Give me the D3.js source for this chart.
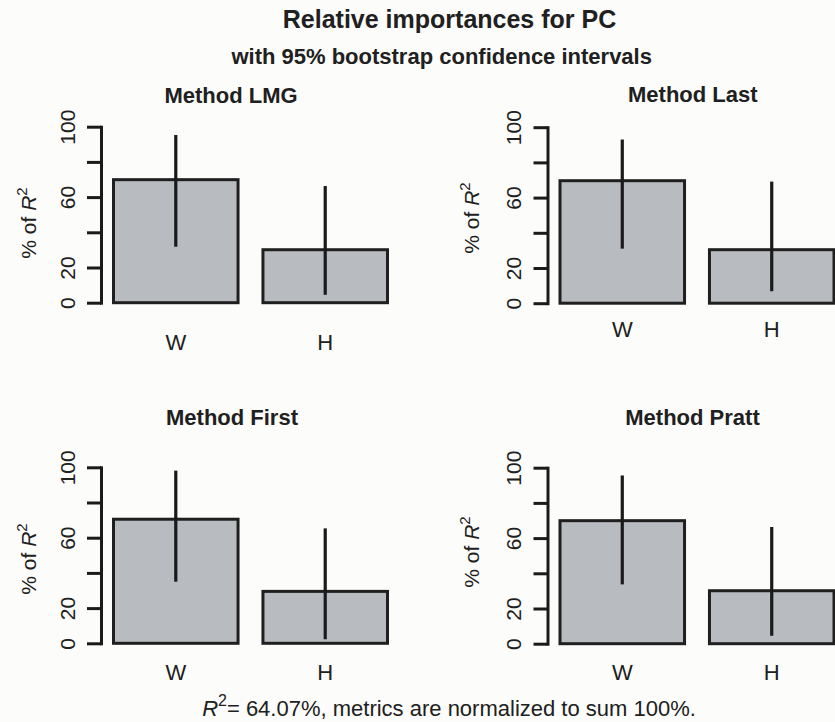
<!DOCTYPE html>
<html>
<head>
<meta charset="utf-8">
<script src="https://cdn.jsdelivr.net/npm/d3@7"></script>
<style>
  body { margin: 0; background: #fcfcfa; }
  text { font-family: "Liberation Sans", Arial, Helvetica, sans-serif; fill: #202020; }
</style>
</head>
<body>
<div id="chart"></div>
<script>
const width = 835;
const height = 722;

// data (% of R^2)
const methodNames = ["Method LMG", "Method Last", "Method First", "Method Pratt"];
const regressors = ["W", "H"];
const shareW = [69.9, 69.6, 70.5, 69.9];
const shareH = [30.1, 30.4, 29.5, 30.1];
const lowerW = [31.8, 31.0, 35.0, 33.7];
const upperW = [95.3, 93.0, 98.1, 95.6];
const lowerH = [4.5, 6.8, 2.3, 4.5];
const upperH = [66.3, 69.1, 65.3, 66.3];
const yTicks = [0, 20, 40, 60, 80, 100];
const yTickLabels = ["0", "20", "", "60", "", "100"];

// where each panel sits on the page
const panels = [
  { dx: 0,     dy: 0,     titleX: 231,   titleY: 102.7, xlabY: 350, ylabX: 35.5,  ylabY: 223 },
  { dx: 446.5, dy: 0.5,   titleX: 692.8, titleY: 101.7, xlabY: 337, ylabX: 478.5, ylabY: 218 },
  { dx: 0,     dy: 340.6, titleX: 232,   titleY: 425,   xlabY: 680, ylabX: 35.5,  ylabY: 559 },
  { dx: 446.5, dy: 341,   titleX: 692.5, titleY: 425,   xlabY: 680, ylabX: 478.5, ylabY: 552 }
];

const svg = d3.select("#chart")
  .append("svg")
  .attr("width", width)
  .attr("height", height)
  .style("background", "#fcfcfa");

// barplot style x units: width 1, space 0.2 (like R)
const barSpace = 0.2;
const x = d3.scaleLinear().domain([0.2, 2.4]).range([113.5, 387.5]);
const y = d3.scaleLinear().domain([0, 100]).range([302.7, 126.7]);

methodNames.forEach((name, p) => {
  const pos = panels[p];
  const g = svg.append("g")
    .attr("transform", `translate(${pos.dx}, ${pos.dy})`);

  const rows = regressors.map((r, i) => ({
    name: r,
    left: barSpace + i * (1 + barSpace),
    value: i === 0 ? shareW[p] : shareH[p],
    lo: i === 0 ? lowerW[p] : lowerH[p],
    hi: i === 0 ? upperW[p] : upperH[p]
  }));

  g.selectAll("rect")
    .data(rows)
    .enter()
    .append("rect")
    .attr("x", d => x(d.left))
    .attr("width", d => x(d.left + 1) - x(d.left))
    .attr("y", d => y(d.value))
    .attr("height", d => y(0) - y(d.value))
    .attr("fill", "#b8bcc0")
    .attr("stroke", "#1f1f1f")
    .attr("stroke-width", 3);

  // bootstrap CI lines
  g.selectAll("line.ci")
    .data(rows)
    .enter()
    .append("line")
    .attr("class", "ci")
    .attr("x1", d => x(d.left + 0.5))
    .attr("x2", d => x(d.left + 0.5))
    .attr("y1", d => y(d.lo))
    .attr("y2", d => y(d.hi))
    .attr("stroke", "#1a1a1a")
    .attr("stroke-width", 3.2);

  const axis = g.append("g")
    .attr("transform", "translate(101, 0)")
    .call(d3.axisLeft(y)
      .tickValues(yTicks)
      .tickSize(14)
      .tickSizeOuter(0)
      .tickFormat((d, i) => yTickLabels[i]));

  axis.select(".domain")
    .attr("stroke", "#1a1a1a")
    .attr("stroke-width", 3)
    .attr("stroke-linecap", "square");
  axis.selectAll(".tick line")
    .attr("stroke", "#1a1a1a")
    .attr("stroke-width", 3);
  axis.selectAll(".tick text")
    .attr("transform", "rotate(-90)")
    .attr("x", 0)
    .attr("y", -26.5)
    .attr("dy", 0)
    .attr("text-anchor", "middle")
    .attr("fill", "#202020")
    .style("font-size", "21px")
    .style("font-family", '"Liberation Sans", Arial, sans-serif');

  // category labels
  svg.selectAll(null)
    .data(rows)
    .enter()
    .append("text")
    .attr("x", d => pos.dx + x(d.left + 0.5))
    .attr("y", pos.xlabY)
    .attr("text-anchor", "middle")
    .style("font-size", "22px")
    .text(d => d.name);

  // panel title
  svg.append("text")
    .attr("x", pos.titleX)
    .attr("y", pos.titleY)
    .attr("text-anchor", "middle")
    .style("font-size", "22px")
    .style("font-weight", "bold")
    .text(name);

  // y label: % of R^2
  const ylab = svg.append("text")
    .attr("transform", `translate(${pos.ylabX}, ${pos.ylabY}) rotate(-90)`)
    .attr("text-anchor", "middle")
    .style("font-size", "21px");
  ylab.append("tspan").text("% of ");
  ylab.append("tspan").style("font-style", "italic").text("R");
  ylab.append("tspan").attr("dy", -9).style("font-size", "15px").text("2");
});

svg.append("text")
  .attr("x", 449.5)
  .attr("y", 27.7)
  .attr("text-anchor", "middle")
  .style("font-size", "25px")
  .style("font-weight", "bold")
  .text("Relative importances for PC");

svg.append("text")
  .attr("x", 441.7)
  .attr("y", 63.5)
  .attr("text-anchor", "middle")
  .style("font-size", "22px")
  .style("font-weight", "bold")
  .text("with 95% bootstrap confidence intervals");

const foot = svg.append("text")
  .attr("x", 449)
  .attr("y", 716)
  .attr("text-anchor", "middle")
  .style("font-size", "22px");
foot.append("tspan").style("font-style", "italic").text("R");
foot.append("tspan").attr("dy", -10).style("font-size", "16px").text("2");
foot.append("tspan").attr("dy", 10).text("= 64.07%, metrics are normalized to sum 100%.");
</script>
</body>
</html>
